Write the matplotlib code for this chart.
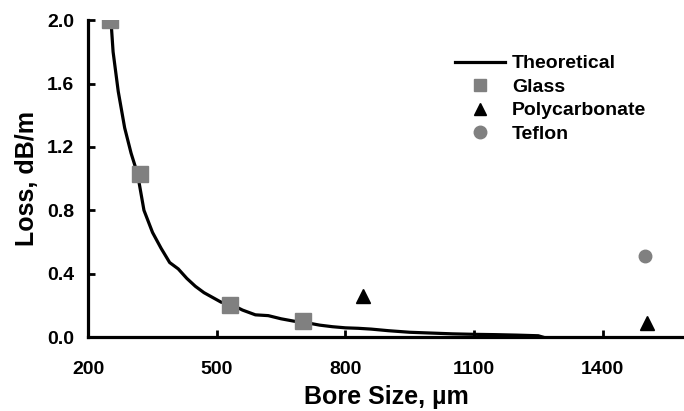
import matplotlib.pyplot as plt

plt.rcParams["font.family"] = ["Liberation Sans", "DejaVu Sans"]
plt.rcParams["font.weight"] = "bold"

# theoretical curve
theory_x = [253, 258, 270, 285, 300, 315, 330, 350, 370, 390, 410, 430, 450,
            470, 490, 510, 530, 560, 590, 620, 650, 680, 710, 740, 770, 800,
            830, 860, 900, 950, 1000, 1050, 1100, 1150, 1200, 1250, 1260]
theory_y = [2.0, 1.8, 1.55, 1.32, 1.16, 1.03, 0.80, 0.66, 0.56, 0.47, 0.43,
            0.37, 0.32, 0.28, 0.25, 0.22, 0.21, 0.17, 0.14, 0.135, 0.115,
            0.10, 0.09, 0.075, 0.065, 0.058, 0.055, 0.05, 0.04, 0.03, 0.025,
            0.02, 0.017, 0.015, 0.012, 0.008, 0.0]

glass_x = [251, 321, 531, 702]
glass_y = [2.0, 1.03, 0.20, 0.10]

poly_x = [840, 1503]
poly_y = [0.26, 0.09]

teflon_x = [1500]
teflon_y = [0.51]

x_ticks = [200, 500, 800, 1100, 1400]
y_ticks = [0.0, 0.4, 0.8, 1.2, 1.6, 2.0]

fig = plt.figure(figsize=(6.84, 4.11), dpi=100)
ax = fig.add_axes([0.129, 0.180, 0.871, 0.771])

ax.plot(theory_x, theory_y, color="black", lw=2.3, label="Theoretical", zorder=2)
ax.plot(glass_x, glass_y, ls="none", marker="s", ms=12, color="#808080",
        label="Glass", zorder=3)
ax.plot(poly_x, poly_y, ls="none", marker="^", ms=10, color="black",
        label="Polycarbonate", zorder=3)
ax.plot(teflon_x, teflon_y, ls="none", marker="o", ms=9, color="#808080",
        label="Teflon", zorder=3)

ax.set_xlim(200, 1590)
ax.set_ylim(0, 2.0)
ax.set_xticks(x_ticks)
ax.set_yticks(y_ticks)
ax.set_yticklabels([f"{v:.1f}" for v in y_ticks])

for side in ["top", "right"]:
    ax.spines[side].set_visible(False)
for side in ["left", "bottom"]:
    ax.spines[side].set_linewidth(2.3)

ax.tick_params(axis="both", direction="in", length=5, width=2, labelsize=14)
ax.tick_params(axis="x", pad=17)
ax.tick_params(axis="y", pad=10)

ax.set_xlabel("Bore Size, µm", fontsize=18, fontweight="bold", labelpad=5)
ax.set_ylabel("Loss, dB/m", fontsize=18, fontweight="bold", labelpad=6)

leg = ax.legend(loc="upper left", bbox_to_anchor=(0.602, 0.915), frameon=False,
                fontsize=14, handlelength=2.6, handletextpad=0.35,
                labelspacing=0.3, borderaxespad=0)
for h in leg.legend_handles[1:]:
    h.set_markersize(9)

fig.savefig("out.png", dpi=100)
